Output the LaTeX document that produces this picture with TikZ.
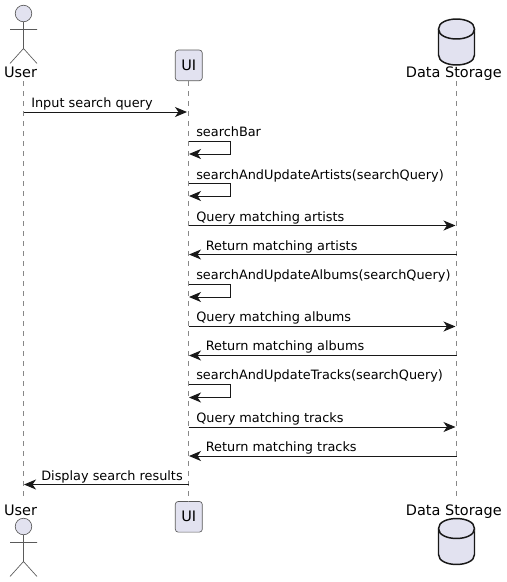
\documentclass[tikz,border=0pt]{standalone}
\usepackage{fontspec}
\setmainfont{DejaVu Sans}
\usetikzlibrary{arrows.meta,shapes.geometric}
\definecolor{pfill}{HTML}{E2E2F0}
\definecolor{pline}{HTML}{181818}
\definecolor{thinln}{HTML}{5A5A5A}
\definecolor{lifeln}{HTML}{888888}
\tikzset{
  px/.style={x=0.75pt,y=-0.75pt},
  lifeline/.style={draw=lifeln,line width=0.75pt,dash pattern=on 3.75pt off 3.75pt},
  msg/.style={draw=pline,line width=0.75pt,-{Stealth[length=9pt,width=7.5pt,inset=2.6pt]}},
  actorline/.style={draw=thinln,line width=0.5pt},
  head/.style={circle,draw=thinln,line width=0.5pt,fill=pfill,minimum size=12.4pt,inner sep=0pt},
  uibox/.style={draw=thinln,line width=0.5pt,fill=pfill,rounded corners=2.2pt,minimum width=20.25pt,minimum height=23pt,inner sep=0pt,font=\fontsize{10.85pt}{12pt}\selectfont},
  plabel/.style={inner sep=0pt,font=\fontsize{10.85pt}{12pt}\selectfont,anchor=base},
  mlabel/.style={inner sep=0pt,font=\fontsize{9.65pt}{12pt}\selectfont,anchor=base west},
  cyl/.style={draw=pline,line width=1.1pt,fill=pfill},
}
\newcommand{\stick}[2]{%
  \draw[actorline] (#1,#2+8) -- (#1,#2+35) (#1-13.5,#2+16) -- (#1+13.5,#2+16)
    (#1-13.5,#2+50) -- (#1,#2+35) -- (#1+13.5,#2+50);
}
\newcommand{\barrel}[2]{%
  \draw[cyl] (#1-18,#2+10) .. controls (#1-18,#2-3.3) and (#1+18,#2-3.3) .. (#1+18,#2+10)
    -- (#1+18,#2+36) .. controls (#1+18,#2+49.3) and (#1-18,#2+49.3) .. (#1-18,#2+36) -- cycle;
  \draw[cyl] (#1-18,#2+10) .. controls (#1-18,#2+23.3) and (#1+18,#2+23.3) .. (#1+18,#2+10);
}
\begin{document}
\begin{tikzpicture}[px]
\useasboundingbox (0,0) rectangle (507,582);
\coordinate (ulTop) at (23.5,81);
\coordinate (ulBot) at (23.5,497);
\node[uibox] (uiTop) at (188.8,65.4) {UI};
\node[uibox] (uiBot) at (188.8,516.8) {UI};
\coordinate (dsTop) at (456.5,81);
\coordinate (dsBot) at (456.5,497);
\path[lifeline] (ulTop) -- (ulBot);
\path[lifeline] (uiTop.south) -- (uiBot.north);
\path[lifeline] (dsTop) -- (dsBot);
% actors
\stick{23.5}{13.5}
\node[head] (userHeadTop) at (23.5,13.5) {};
\node[plabel] (userTop) at (20.5,77) {User};
\node[plabel] (userBot) at (20.5,515) {User};
\stick{23.5}{526.5}
\node[head] (userHeadBot) at (23.5,526.5) {};
% databases
\barrel{456.5}{19}
\node[plabel] (dataTop) at (453.8,77) {Data Storage};
\node[plabel] (dataBot) at (453.8,515) {Data Storage};
\barrel{456.5}{518.5}
% messages
\coordinate (u1) at (23.5,112); \coordinate (i1) at (187,112);
\draw[msg] (u1) -- (i1);
\node[mlabel] (t1) at (31,107) {Input search query};
\node[mlabel] (t2) at (196,136) {searchBar};
\draw[msg] (188.5,141) -- (230.5,141) -- (230.5,154) -- (189,154);
\node[mlabel] (t3) at (196,179) {searchAndUpdateArtists(searchQuery)};
\draw[msg] (188.5,183) -- (230.5,183) -- (230.5,196) -- (189,196);
\node[mlabel] (t4) at (196,221) {Query matching artists};
\draw[msg] (188.5,225.5) -- (455.5,225.5);
\node[mlabel] (t5) at (205.5,250) {Return matching artists};
\draw[msg] (456.5,254.5) -- (189,254.5);
\node[mlabel] (t6) at (196,279) {searchAndUpdateAlbums(searchQuery)};
\draw[msg] (188.5,284) -- (230.5,284) -- (230.5,297) -- (189,297);
\node[mlabel] (t7) at (196,321) {Query matching albums};
\draw[msg] (188.5,326.5) -- (455.5,326.5);
\node[mlabel] (t8) at (205.5,350) {Return matching albums};
\draw[msg] (456.5,355.5) -- (189,355.5);
\node[mlabel] (t9) at (196,379) {searchAndUpdateTracks(searchQuery)};
\draw[msg] (188.5,384.5) -- (230.5,384.5) -- (230.5,397.5) -- (189,397.5);
\node[mlabel] (t10) at (196,422) {Query matching tracks};
\draw[msg] (188.5,427) -- (455.5,427);
\node[mlabel] (t11) at (205.5,451) {Return matching tracks};
\draw[msg] (456.5,456) -- (189,456);
\node[mlabel] (t12) at (41,480) {Display search results};
\draw[msg] (188.5,484.5) -- (24,484.5);
\end{tikzpicture}
\end{document}
